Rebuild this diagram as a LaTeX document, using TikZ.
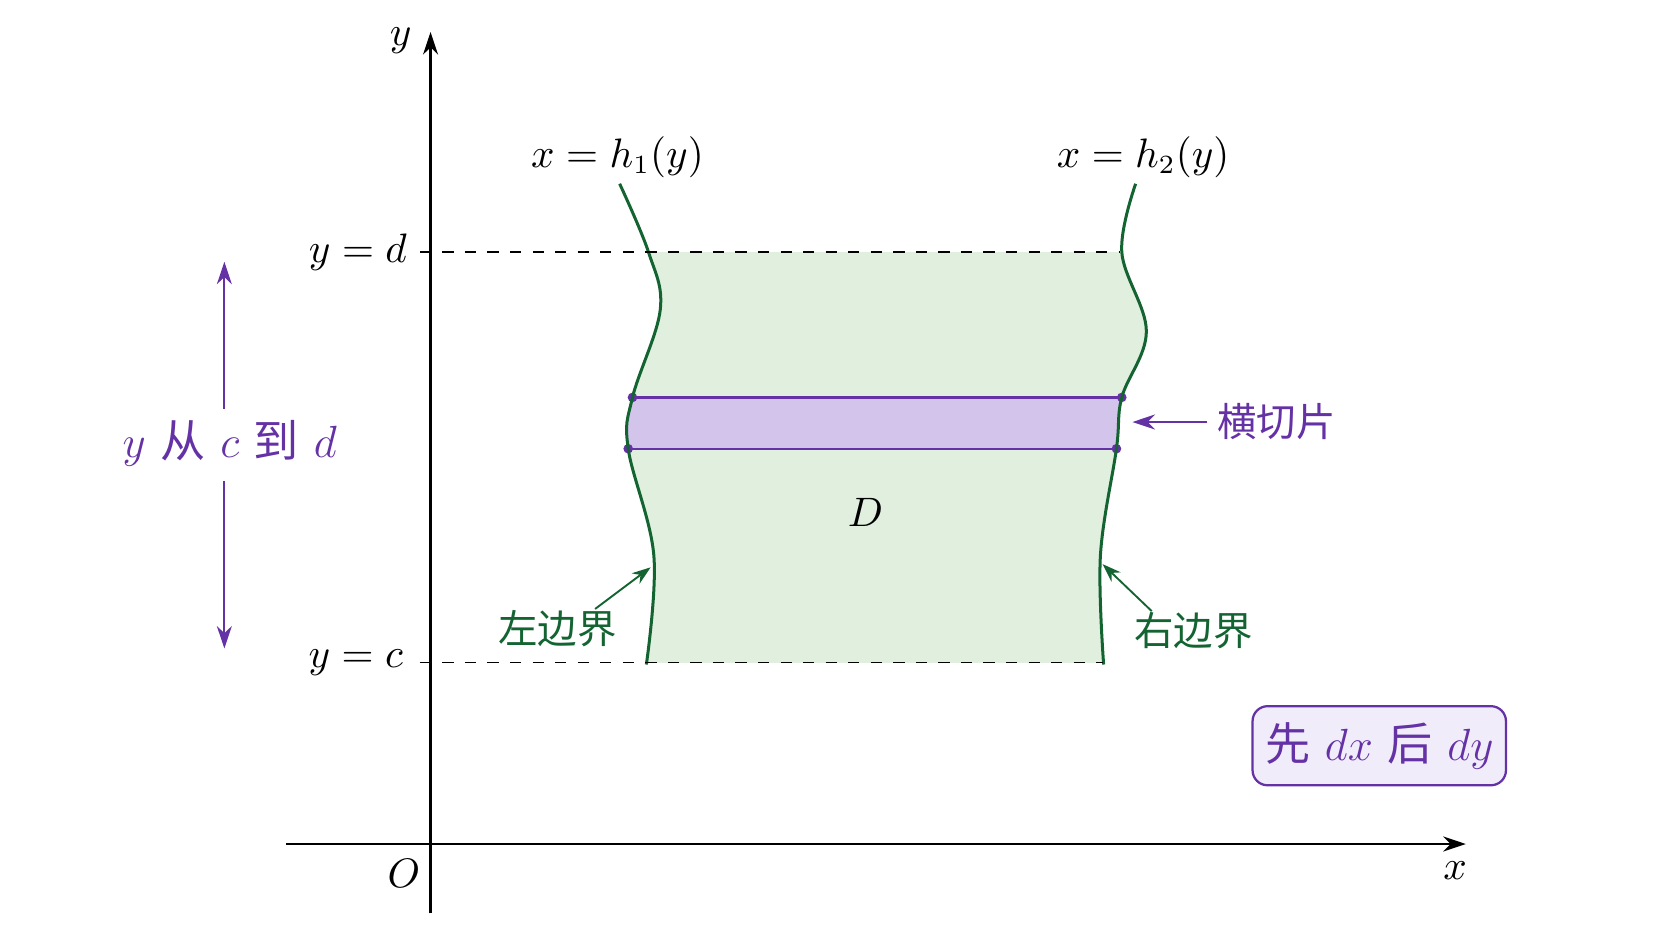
\documentclass[tikz,border=0pt]{standalone}
\usepackage{fontspec}
\newfontfamily\cjk{Noto Sans CJK SC}
\usetikzlibrary{arrows.meta}
\definecolor{dg}{RGB}{20,100,50}
\definecolor{lg}{RGB}{224,239,222}
\definecolor{pp}{RGB}{100,50,165}
\definecolor{lp}{RGB}{210,196,234}
\definecolor{bp}{RGB}{240,236,250}
\begin{document}
\begin{tikzpicture}[x=0.01cm,y=-0.01cm,font=\fontsize{10.5}{12}\selectfont,
  ax/.style={-{Stealth[length=6pt,width=4pt]},line width=0.6pt},
  dsh/.style={dashed,line width=0.45pt},
  gr/.style={dg,line width=0.8pt},
  ga/.style={dg,-{Stealth[length=5pt,width=3.5pt]},line width=0.5pt},
  pa/.style={pp,-{Stealth[length=6pt,width=4pt]},line width=0.5pt}]
\useasboundingbox (0,0) rectangle (1565,881);
\def\L{(580,172) (607,236) (618,290) (592,372) (588,420) (612,520) (605,622)}
\def\R{(1033,622) (1030,520) (1045,420) (1050,372) (1073,310) (1050,236) (1063,172)}
\begin{scope}
\clip (0,236) rectangle (1565,620);
\fill[lg] plot[smooth,tension=0.6] coordinates {\L} -- plot[smooth,tension=0.6] coordinates {\R} -- cycle;
\end{scope}
\begin{scope}
\clip (0,372) rectangle (1565,420);
\fill[lp] plot[smooth,tension=0.6] coordinates {\L} -- plot[smooth,tension=0.6] coordinates {\R} -- cycle;
\end{scope}
\draw[pp,line width=0.6pt] (592,372) -- (1050,372) (588,420) -- (1045,420);
\foreach \p in {(592,372),(1050,372),(588,420),(1045,420)} \fill[pp] \p circle (4.5);
\draw[gr] plot[smooth,tension=0.6] coordinates {\L};
\draw[gr] plot[smooth,tension=0.6] coordinates {\R};
\coordinate (dl) at (393,236); \coordinate (dr) at (1048,236);
\coordinate (cl) at (393,620); \coordinate (cr) at (1032,620);
\draw[dsh] (dl) -- (dr); \draw[dsh] (cl) -- (cr);
\coordinate (ya) at (403,855); \coordinate (yb) at (403,30);
\coordinate (xa) at (268,790); \coordinate (xb) at (1372,790);
\draw[ax] (ya) -- (yb); \draw[ax] (xa) -- (xb);
\node (ly) at (375,38) {$y$};
\node (lx) at (1362,815) {$x$};
\node (lo) at (378,818) {$O$};
\node (lyd) at (335,236) {$y=d$};
\node (lyc) at (333,620) {$y=c$};
\node (h1) at (578,147) {$x=h_1(y)$};
\node (h2) at (1070,147) {$x=h_2(y)$};
\node (D) at (810,480) {$D$};
\node[dg] (lb) at (522,588) {\cjk 左边界};
\node[dg] (rb) at (1117,590) {\cjk 右边界};
\coordinate (lbs) at (557,570); \coordinate (lbt) at (609,531);
\coordinate (rbs) at (1078,572); \coordinate (rbt) at (1032,528);
\draw[ga] (lbs) -- (lbt);
\draw[ga] (rbs) -- (rbt);
\node[pp] (hq) at (1195,395) {\cjk 横切片};
\coordinate (hqs) at (1130,395); \coordinate (hqt) at (1060,395);
\draw[pa] (hqs) -- (hqt);
\node[pp,font=\fontsize{12}{14}\selectfont] (yl) at (215,415) {$y$ {\cjk 从} $c$ {\cjk 到} $d$};
\coordinate (yu) at (210,245); \coordinate (yd) at (210,607);
\coordinate (ym1) at (210,383); \coordinate (ym2) at (210,450);
\draw[pa] (ym1) -- (yu); \draw[pa] (ym2) -- (yd);
\node[pp,draw,fill=bp,rounded corners=4pt,line width=0.6pt,minimum width=2.22cm,minimum height=0.74cm,font=\fontsize{12}{14}\selectfont] (box) at (1291,698) {{\cjk 先} $dx$ {\cjk 后} $dy$};
\end{tikzpicture}
\end{document}
